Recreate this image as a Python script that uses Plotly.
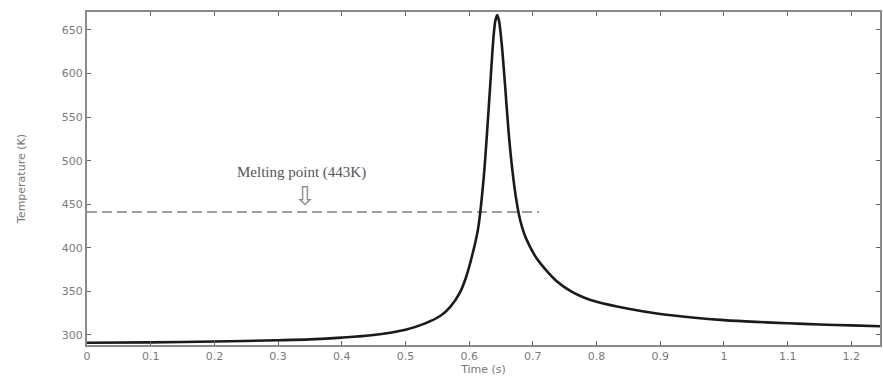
import plotly.graph_objects as go

# Temperature history
time_s = [0, 0.1, 0.2, 0.3, 0.35, 0.4, 0.45, 0.5, 0.53, 0.555, 0.57, 0.585,
          0.595, 0.605, 0.614, 0.623, 0.632, 0.638, 0.641, 0.644, 0.647, 0.651,
          0.656, 0.662, 0.668, 0.674, 0.68, 0.687, 0.695, 0.705, 0.72, 0.737,
          0.76, 0.78, 0.8, 0.85, 0.9, 0.95, 1.0, 1.05, 1.1, 1.15, 1.2, 1.245]
temp_k = [291, 291.5, 292.5, 294, 295, 297, 300, 306, 313, 322, 332, 348,
          366, 392, 422, 482, 575, 640, 660, 667, 660, 635,
          590, 532, 488, 455, 432, 415, 402, 389, 375, 362,
          350, 343, 338, 330, 324, 320, 317, 315, 313.5, 312, 311, 310]

melt_t = [0, 0.71]
melt_T = [441, 441]

x_ticks = [0, 0.1, 0.2, 0.3, 0.4, 0.5, 0.6, 0.7, 0.8, 0.9, 1, 1.1, 1.2]
x_tick_text = ["0", "0.1", "0.2", "0.3", "0.4", "0.5", "0.6", "0.7", "0.8", "0.9", "1", "1.1", "1.2"]
y_ticks = [300, 350, 400, 450, 500, 550, 600, 650]

fig = go.Figure()
fig.add_trace(go.Scatter(x=melt_t, y=melt_T, mode="lines",
                         line=dict(color="#a0a0a0", width=2, dash="10px,5px"),
                         showlegend=False, hoverinfo="skip"))
fig.add_trace(go.Scatter(x=time_s, y=temp_k, mode="lines",
                         line=dict(color="#1a1a1a", width=2.6, shape="spline", smoothing=0.8),
                         showlegend=False))

fig.add_annotation(x=0.336, y=486, text="Melting point (443K)", showarrow=False,
                   font=dict(family="Liberation Serif, Times New Roman, serif", size=15, color="#555"))
fig.add_annotation(x=0.343, y=459, text="⇩", showarrow=False,
                   font=dict(family="DejaVu Sans", size=26, color="#888"))

axis_common = dict(showline=True, linecolor="#8a8a8a", linewidth=2, mirror="ticks",
                   ticks="inside", ticklen=4, tickcolor="#666", tickwidth=1,
                   showgrid=False, zeroline=False,
                   tickfont=dict(family="DejaVu Sans, sans-serif", size=11, color="#7a7a7a"))

fig.update_xaxes(range=[0, 1.245], tickvals=x_ticks, ticktext=x_tick_text,
                 title=dict(text="Time (s)", standoff=2,
                            font=dict(family="DejaVu Sans, sans-serif", size=11, color="#777")),
                 **axis_common)
fig.update_yaxes(range=[288.5, 670.6], tickvals=y_ticks,
                 title=dict(text="Temperature (K)", standoff=34,
                            font=dict(family="DejaVu Sans, sans-serif", size=11, color="#777")),
                 **axis_common)

fig.update_layout(width=883, height=380, margin=dict(l=87, r=1, t=12, b=35),
                  plot_bgcolor="white", paper_bgcolor="white")

fig.write_html("out.html")
